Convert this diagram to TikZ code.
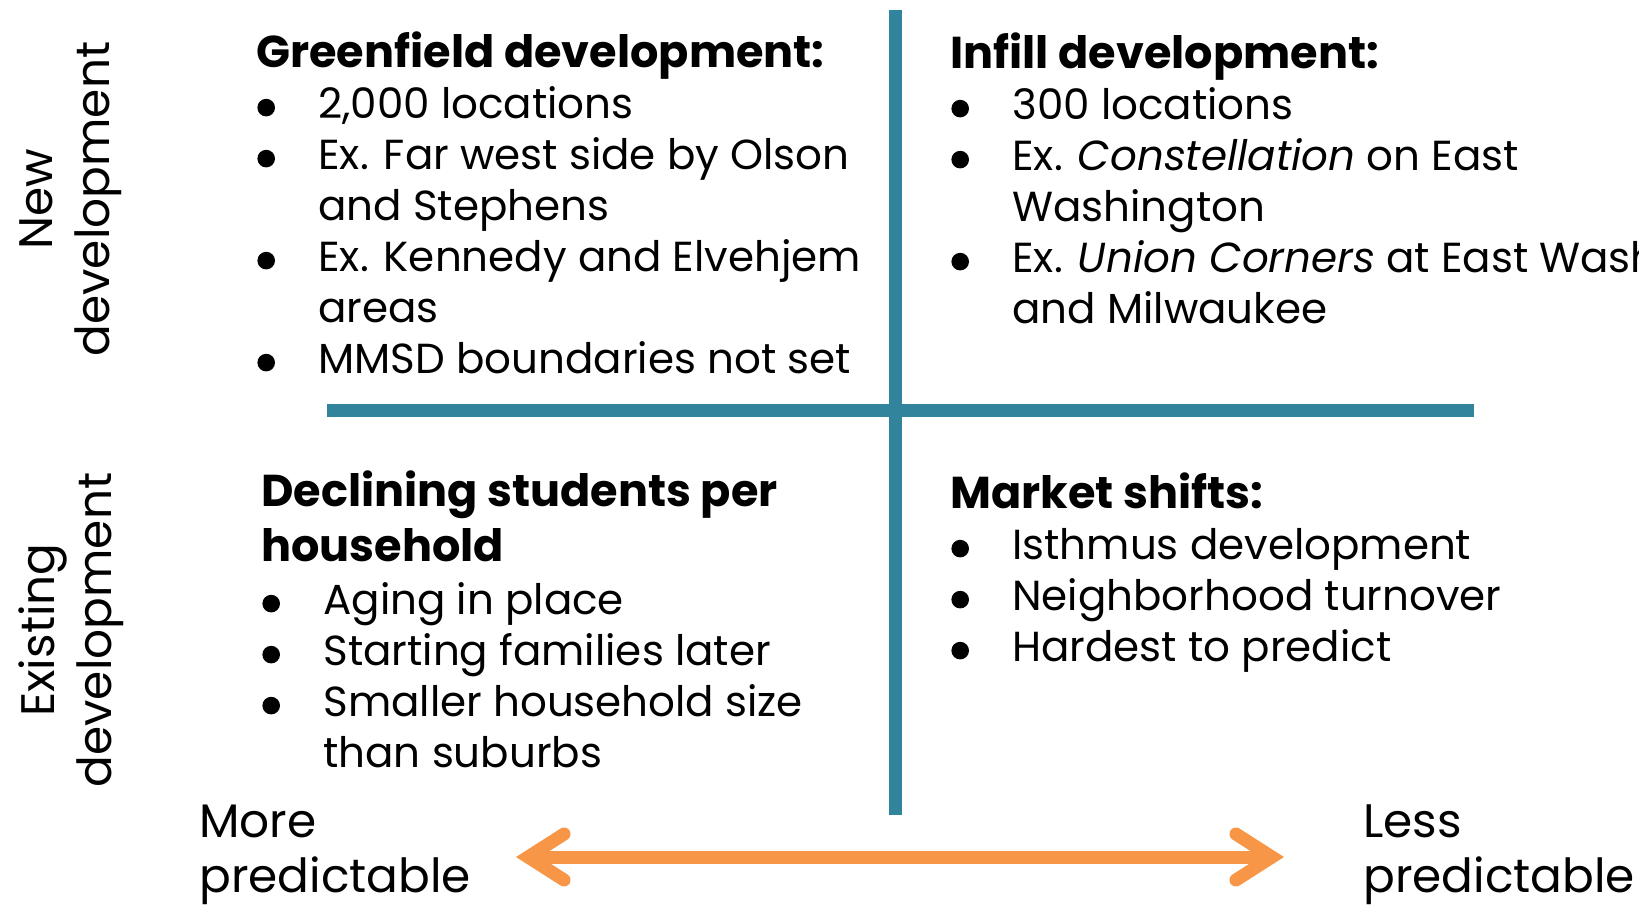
\documentclass[tikz,border=0pt]{standalone}
\usepackage{fontspec}
\setmainfont{Poppins}
\usetikzlibrary{positioning,arrows.meta}
\definecolor{quadline} {HTML}{31849B}
\definecolor{scaleline}{HTML}{F79646}
% round bullet and hanging indent for the lists
\newcommand\bul{\makebox[31pt][l]{\hspace{0.5pt}\raisebox{0.8pt}{\tikz[x=1pt,y=1pt]\fill (0,0) circle [radius=4.4pt];}}}
\newcommand\cont{\hspace{31pt}}
\newcommand\hd[1]{{\fontsize{22.3}{25.5}\selectfont\bfseries #1}}
\tikzset{
  x=0.5pt, y=-0.5pt,
  every node/.style={inner sep=0pt, font=\fontsize{21}{25.5}\selectfont},
  % --- text blocks (anchored on the last line)
  quad/.style  = {anchor=base west, align=left},
  side/.style  = {rotate=90, align=center, font=\fontsize{23.5}{28.7}\selectfont},
  ends/.style  = {anchor=base west, align=left, font=\fontsize{23.5}{27.5}\selectfont},
  % --- lines
  axis/.style  = {line width=6.5pt, draw=quadline},
  predscale/.style = {line width=6.5pt, draw=scaleline,
                  {Straight Barb[length=18pt,width=23pt,line join=miter,line cap=round]}-%
                  {Straight Barb[length=18pt,width=23pt,line join=miter,line cap=round]}},
}

\begin{document}
\begin{tikzpicture}
  \useasboundingbox (0,0) rectangle (1639,907);

  % quadrant dividers
  \coordinate (vtop) at (895,10);
  \coordinate (vbot) at (895,815);
  \coordinate (hl)   at (327,410);
  \coordinate (hr)   at (1474,410);
  \draw[axis] (vtop) -- (vbot);
  \draw[axis] (hl) -- (hr);

  % row labels
  \node[side] (newdev) at (71,199) {New\\development};
  \node[side] (olddev) at (71,630) {Existing\\development};

  % new development
  \node[quad] (green) at (256,373) {\hd{Greenfield development:}\\
    \bul 2,000 locations\\
    \bul Ex. Far west side by Olson\\
    \cont and Stephens\\
    \bul Ex. Kennedy and Elvehjem\\
    \cont areas\\
    \bul MMSD boundaries not set};
  \node[quad] (infill) at (950,323) {\hd{Infill development:}\\
    \bul 300 locations\\
    \bul Ex. \textit{Constellation} on East\\
    \cont Washington\\
    \bul Ex. \textit{Union Corners} at East Wash\\
    \cont and Milwaukee};

  % existing development
  \node[quad] (decline) at (261,767) {\hd{Declining students per}\\[2pt]
    \hd{household}\\[1pt]
    \bul Aging in place\\
    \bul Starting families later\\
    \bul Smaller household size\\
    \cont than suburbs};
  \node[quad] (market) at (950,661) {\hd{Market shifts:}\\
    \bul Isthmus development\\
    \bul Neighborhood turnover\\
    \bul Hardest to predict};

  % predictability scale
  \node[ends] (more) at (199,892) {More\\predictable};
  \node[ends] (less) at (1363,892) {Less\\predictable};
  \coordinate (sl) at (516,857);
  \coordinate (sr) at (1284,857);
  \draw[predscale] (sl) -- (sr);
\end{tikzpicture}
\end{document}
